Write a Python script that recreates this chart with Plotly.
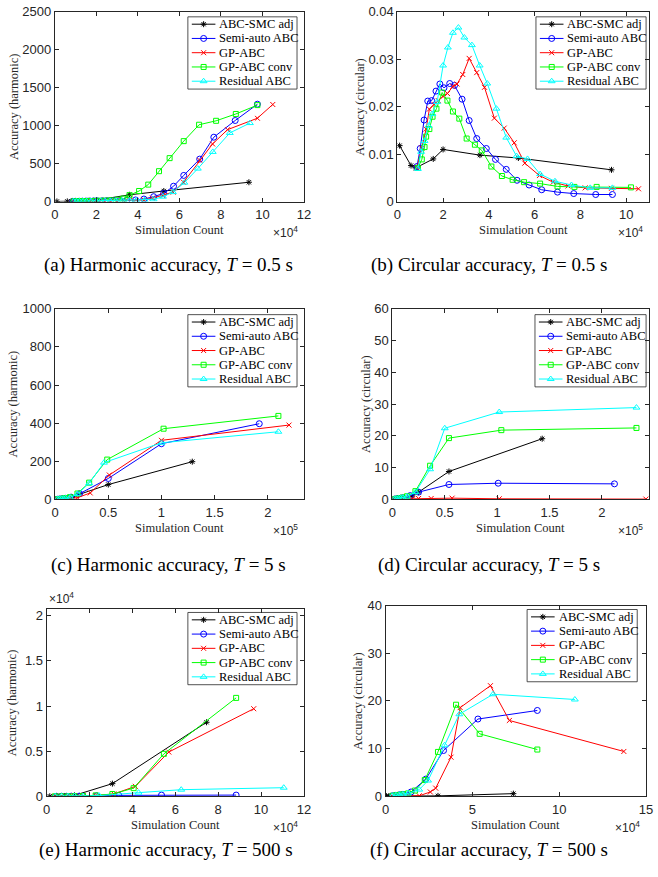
import plotly.graph_objects as go

W, H = 658, 877
SERIF = "Liberation Serif, Times New Roman, serif"
SANS = "Liberation Sans, Arial, sans-serif"
AX = "#262626"

methods = ["ABC-SMC adj", "Semi-auto ABC", "GP-ABC", "GP-ABC conv", "Residual ABC"]
colors = ["#000000", "#0000FF", "#FF0000", "#00FF00", "#00FFFF"]
symbols = ["asterisk-open", "circle-open", "x-thin-open", "square-open", "triangle-up-open"]
msizes = [5, 6, 5, 5, 6]

# ---------------- (a) harmonic, T=0.5s  (x in 1e4) ----------------
a_smc_x = [0.1, 0.6, 0.8, 1.6, 2.0, 3.6, 5.25, 9.35]
a_smc_y = [2, 3, 4, 12, 20, 90, 140, 255]
a_semi_x = [0.86, 1.0, 1.17, 1.33, 1.5, 1.69, 1.86, 2.04, 2.29, 2.5, 2.83, 3.14, 3.47, 3.89, 4.29, 4.76, 5.24, 5.72, 6.21, 6.98, 7.66, 8.69, 9.76]
a_semi_y = [3, 4, 5, 6, 7, 8, 9, 10, 11, 12, 13, 14, 16, 22, 34, 65, 108, 203, 345, 560, 849, 1069, 1284]
a_gp_x = [0.9, 1.1, 1.3, 1.5, 1.7, 1.9, 2.1, 2.4, 2.7, 3.0, 3.4, 3.8, 4.3, 4.7, 5.2, 5.7, 6.2, 6.98, 7.6, 8.32, 9.76, 10.5]
a_gp_y = [2, 3, 3, 4, 4, 5, 5, 6, 7, 8, 10, 14, 22, 45, 80, 125, 255, 545, 760, 948, 1099, 1280]
a_conv_x = [0.9, 1.07, 1.19, 1.26, 1.4, 1.54, 1.71, 1.96, 2.19, 2.43, 2.71, 3.03, 3.3, 3.6, 4.06, 4.5, 5.02, 5.53, 6.21, 6.95, 7.77, 8.72, 9.76]
a_conv_y = [3, 4, 5, 5, 6, 7, 8, 10, 12, 14, 17, 25, 40, 85, 140, 224, 401, 573, 797, 1013, 1065, 1155, 1272]
a_res_x = [0.9, 1.04, 1.19, 1.36, 1.53, 1.74, 2.0, 2.21, 2.43, 2.67, 2.93, 3.26, 3.6, 3.93, 4.33, 4.76, 5.21, 5.69, 6.24, 6.89, 7.61, 8.43, 9.4]
a_res_y = [2, 3, 3, 4, 4, 5, 6, 7, 8, 9, 10, 12, 14, 17, 22, 30, 65, 125, 250, 435, 655, 905, 1035]

# ---------------- (b) circular, T=0.5s  (x in 1e4) ----------------
b_smc_x = [0.1, 0.6, 0.8, 1.57, 2.0, 3.61, 5.29, 9.36]
b_smc_y = [0.0118, 0.0076, 0.0071, 0.0090, 0.0110, 0.0098, 0.0092, 0.0067]
b_semi_x = [0.86, 1.0, 1.17, 1.33, 1.5, 1.69, 1.86, 2.04, 2.29, 2.5, 2.83, 3.14, 3.47, 3.89, 4.29, 4.76, 5.23, 5.76, 6.31, 7.0, 7.71, 8.67, 9.4]
b_semi_y = [0.0074, 0.0112, 0.0172, 0.0212, 0.0213, 0.0233, 0.0248, 0.0240, 0.0249, 0.0245, 0.0216, 0.0171, 0.0133, 0.0112, 0.0089, 0.0068, 0.0045, 0.0035, 0.0025, 0.0020, 0.0017, 0.0015, 0.0015]
b_gp_x = [0.86, 1.07, 1.26, 1.4, 1.6, 1.79, 2.0, 2.19, 2.43, 2.61, 2.86, 3.14, 3.47, 3.81, 4.24, 4.67, 5.11, 5.57, 6.21, 6.81, 7.46, 8.21, 9.36, 10.54]
b_gp_y = [0.0071, 0.0113, 0.0153, 0.0195, 0.0205, 0.0213, 0.0222, 0.0228, 0.0243, 0.0248, 0.0268, 0.0302, 0.0272, 0.0241, 0.0176, 0.0155, 0.0124, 0.0081, 0.0055, 0.0041, 0.0033, 0.0029, 0.0028, 0.0027]
b_conv_x = [0.9, 1.07, 1.19, 1.26, 1.4, 1.54, 1.71, 1.96, 2.19, 2.43, 2.71, 3.03, 3.39, 3.69, 4.11, 4.57, 5.04, 5.54, 6.24, 7.0, 7.74, 8.71, 10.21]
b_conv_y = [0.0071, 0.0089, 0.0115, 0.0137, 0.0153, 0.0179, 0.0196, 0.0230, 0.0213, 0.0190, 0.0175, 0.0133, 0.0120, 0.0108, 0.0074, 0.0054, 0.0046, 0.0041, 0.0038, 0.0032, 0.0031, 0.0031, 0.0030]
b_res_x = [0.9, 1.04, 1.19, 1.36, 1.53, 1.74, 2.0, 2.21, 2.43, 2.67, 2.93, 3.26, 3.6, 3.93, 4.33, 4.76, 5.21, 5.69, 6.24, 6.89, 7.61, 8.43, 9.4]
b_res_y = [0.0069, 0.0105, 0.0128, 0.0160, 0.0185, 0.0210, 0.0287, 0.0325, 0.0356, 0.0367, 0.0346, 0.0330, 0.0287, 0.0249, 0.0196, 0.0135, 0.0096, 0.0090, 0.0058, 0.0043, 0.0035, 0.0029, 0.0029]

# ---------------- (c) harmonic, T=5s  (x in 1e5) ----------------
c_smc_x = [0.01, 0.06, 0.1, 0.16, 0.22, 0.5, 1.29]
c_smc_y = [1, 2, 4, 10, 25, 78, 198]
c_semi_x = [0.02, 0.04, 0.06, 0.08, 0.1, 0.15, 0.23, 0.5, 1.0, 1.92]
c_semi_y = [1, 2, 3, 4, 6, 12, 30, 110, 292, 397]
c_gp_x = [0.02, 0.04, 0.06, 0.08, 0.12, 0.21, 0.33, 0.51, 1.0, 2.2]
c_gp_y = [0, 1, 1, 2, 4, 9, 34, 128, 310, 390]
c_conv_x = [0.02, 0.04, 0.06, 0.08, 0.1, 0.14, 0.21, 0.32, 0.49, 1.02, 2.1]
c_conv_y = [1, 2, 3, 5, 7, 12, 31, 88, 209, 371, 438]
c_res_x = [0.02, 0.04, 0.06, 0.08, 0.1, 0.14, 0.21, 0.32, 0.46, 1.0, 2.1]
c_res_y = [1, 2, 3, 4, 6, 10, 28, 85, 193, 297, 355]

# ---------------- (d) circular, T=5s  (x in 1e5) ----------------
d_smc_x = [0.01, 0.06, 0.1, 0.19, 0.25, 0.54, 1.43]
d_smc_y = [0, 0, 0.3, 1.1, 2.3, 8.8, 19.1]
d_semi_x = [0.02, 0.04, 0.06, 0.08, 0.1, 0.17, 0.25, 0.54, 1.01, 2.12]
d_semi_y = [0.1, 0.2, 0.3, 0.4, 0.5, 1.2, 2.3, 4.7, 5.1, 4.9]
d_gp_x = [0.02, 0.04, 0.06, 0.08, 0.12, 0.19, 0.25, 0.37, 0.57, 1.02, 2.42]
d_gp_y = [0.1, 0.1, 0.2, 0.2, 0.2, 0.3, 0.3, 0.3, 0.4, 0.2, 0.1]
d_conv_x = [0.02, 0.04, 0.06, 0.08, 0.1, 0.14, 0.22, 0.36, 0.54, 1.04, 2.33]
d_conv_y = [0.1, 0.2, 0.3, 0.4, 0.6, 1.0, 2.6, 10.6, 19.3, 21.8, 22.5]
d_res_x = [0.02, 0.04, 0.06, 0.08, 0.1, 0.14, 0.22, 0.36, 0.5, 1.02, 2.33]
d_res_y = [0.1, 0.2, 0.3, 0.4, 0.5, 0.9, 2.3, 9.5, 22.4, 27.5, 28.9]

# ---------------- (e) harmonic, T=500s  (x in 1e4, y in 1e4) ----------------
e_smc_x = [0.15, 0.46, 0.84, 1.3, 3.07, 7.46]
e_smc_y = [0, 0, 0.003, 0.01, 0.14, 0.82]
e_semi_x = [0.46, 0.69, 0.92, 1.15, 1.53, 2.34, 3.37, 5.36, 8.84]
e_semi_y = [0, 0, 0, 0.001, 0.002, 0.005, 0.01, 0.013, 0.013]
e_gp_x = [0.4, 0.7, 1.0, 1.3, 1.7, 2.3, 3.14, 4.14, 5.7, 9.66]
e_gp_y = [0, 0, 0, 0.001, 0.003, 0.008, 0.025, 0.11, 0.49, 0.97]
e_conv_x = [0.4, 0.7, 1.0, 1.3, 1.7, 2.29, 3.07, 4.06, 5.47, 8.84]
e_conv_y = [0, 0, 0, 0.001, 0.003, 0.01, 0.025, 0.09, 0.47, 1.09]
e_res_x = [0.4, 0.7, 1.0, 1.3, 1.7, 2.45, 4.29, 6.28, 11.06]
e_res_y = [0, 0, 0, 0.001, 0.002, 0.007, 0.04, 0.073, 0.095]

# ---------------- (f) circular, T=500s  (x in 1e4) ----------------
f_smc_x = [0.06, 0.19, 1.36, 3.02, 7.36]
f_smc_y = [0.02, 0.03, 0.05, 0.08, 0.55]
f_semi_x = [0.4, 0.6, 0.8, 1.0, 1.47, 2.32, 3.34, 5.32, 8.74]
f_semi_y = [0.1, 0.2, 0.3, 0.4, 0.9, 3.6, 9.6, 16.2, 18.0]
f_gp_x = [0.4, 0.6, 0.8, 1.0, 1.32, 1.94, 2.58, 2.89, 3.77, 4.3, 6.04, 7.13, 13.72]
f_gp_y = [0, 0.05, 0.1, 0.1, 0.1, 0.1, 0.9, 1.7, 8.2, 18.6, 23.2, 15.9, 9.4]
f_conv_x = [0.4, 0.6, 0.8, 1.0, 1.3, 1.7, 2.26, 3.02, 4.06, 5.42, 8.74]
f_conv_y = [0.1, 0.2, 0.3, 0.4, 0.6, 1.2, 3.4, 9.3, 19.2, 13.1, 9.8]
f_res_x = [0.4, 0.6, 0.8, 1.0, 1.3, 1.94, 2.45, 3.4, 4.25, 6.19, 10.9]
f_res_y = [0.1, 0.2, 0.3, 0.4, 0.6, 1.4, 3.3, 10.7, 17.2, 21.4, 20.3]

# tick labels
xt_a = [0, 2, 4, 6, 8, 10, 12]
xt_b = [0, 2, 4, 6, 8, 10]
xt_cd = [0, 0.5, 1, 1.5, 2]
xt_f = [0, 5, 10, 15]
yt_a = [0, 500, 1000, 1500, 2000, 2500]
yt_b = [0, 0.01, 0.02, 0.03, 0.04]
yt_c = [0, 200, 400, 600, 800, 1000]
yt_d = [0, 10, 20, 30, 40, 50, 60]
yt_e = [0, 0.5, 1, 1.5, 2]
yt_f = [0, 10, 20, 30, 40]

captions = [
    "(a) Harmonic accuracy, <i>T</i> = 0.5 s",
    "(b) Circular accuracy, <i>T</i> = 0.5 s",
    "(c) Harmonic accuracy, <i>T</i> = 5 s",
    "(d) Circular accuracy, <i>T</i> = 5 s",
    "(e) Harmonic accuracy, <i>T</i> = 500 s",
    "(f) Circular accuracy, <i>T</i> = 500 s",
]


def fmt(v):
    return "%g" % v


panels = [
    dict(xs=[a_smc_x, a_semi_x, a_gp_x, a_conv_x, a_res_x], ys=[a_smc_y, a_semi_y, a_gp_y, a_conv_y, a_res_y],
         box=(51.7, 5, 305, 198), xr=[0, 12], yr=[0, 2500], xt=xt_a, yt=yt_a, ylab="Accuracy (harmonic)",
         ylx=9.5, xexp="×10<sup>4</sup>", yexp=None, leg=(187, 10, 298), cap_x=167, cap_y=262),
    dict(xs=[b_smc_x, b_semi_x, b_gp_x, b_conv_x, b_res_x], ys=[b_smc_y, b_semi_y, b_gp_y, b_conv_y, b_res_y],
         box=(400, 5, 656, 198), xr=[0, 11], yr=[0, 0.04], xt=xt_b, yt=yt_b, ylab="Accuracy (circular)",
         ylx=362, xexp="×10<sup>4</sup>", yexp=None, leg=(541, 10, 653), cap_x=493, cap_y=262),
    dict(xs=[c_smc_x, c_semi_x, c_gp_x, c_conv_x, c_res_x], ys=[c_smc_y, c_semi_y, c_gp_y, c_conv_y, c_res_y],
         box=(52, 307, 305, 501), xr=[0, 2.34], yr=[0, 1000], xt=xt_cd, yt=yt_c, ylab="Accuracy (harmonic)",
         ylx=9.5, xexp="×10<sup>5</sup>", yexp=None, leg=(187, 313, 298), cap_x=167, cap_y=568),
    dict(xs=[d_smc_x, d_semi_x, d_gp_x, d_conv_x, d_res_x], ys=[d_smc_y, d_semi_y, d_gp_y, d_conv_y, d_res_y],
         box=(395, 307, 656, 501), xr=[0, 2.45], yr=[0, 60], xt=xt_cd, yt=yt_d, ylab="Accuracy (circular)",
         ylx=368, xexp="×10<sup>5</sup>", yexp=None, leg=(540, 313, 653), cap_x=493, cap_y=568),
    dict(xs=[e_smc_x, e_semi_x, e_gp_x, e_conv_x, e_res_x], ys=[e_smc_y, e_semi_y, e_gp_y, e_conv_y, e_res_y],
         box=(43.3, 612, 305, 803), xr=[0, 12], yr=[0, 2.08], xt=xt_a, yt=yt_e, ylab="Accuracy (harmonic)",
         ylx=9, xexp="×10<sup>4</sup>", yexp="×10<sup>4</sup>", leg=(187, 616, 298), cap_x=165, cap_y=858),
    dict(xs=[f_smc_x, f_semi_x, f_gp_x, f_conv_x, f_res_x], ys=[f_smc_y, f_semi_y, f_gp_y, f_conv_y, f_res_y],
         box=(388, 609, 653, 803), xr=[0, 15], yr=[0, 40], xt=xt_f, yt=yt_f, ylab="Accuracy (circular)",
         ylx=360, xexp="×10<sup>4</sup>", yexp=None, leg=(532, 613, 644), cap_x=493, cap_y=858),
]


def PX(p):
    return p / W


def PY(p):
    return 1 - p / H


fig = go.Figure()
layout = {}
annotations = []
shapes = []

for i, P in enumerate(panels):
    n = i + 1
    xn = "x" if n == 1 else "x%d" % n
    yn = "y" if n == 1 else "y%d" % n
    for k in range(5):
        fig.add_trace(go.Scatter(
            x=P["xs"][k], y=P["ys"][k], mode="lines+markers", xaxis=xn, yaxis=yn,
            line=dict(color=colors[k], width=1),
            marker=dict(symbol=symbols[k], size=msizes[k], color=colors[k], line=dict(width=1, color=colors[k])),
            showlegend=False, hoverinfo="skip"))
    l, t, r, b = P["box"]
    common = dict(showline=True, linecolor=AX, linewidth=1, mirror="ticks", ticks="inside", ticklen=4,
                  tickcolor=AX, tickwidth=1, showgrid=False, zeroline=False, fixedrange=True,
                  tickfont=dict(family=SANS, size=13, color=AX))
    layout["xaxis" if n == 1 else "xaxis%d" % n] = dict(
        domain=[PX(l), PX(r)], range=P["xr"], anchor=yn, tickvals=P["xt"],
        ticktext=[fmt(v) for v in P["xt"]], ticklabelstandoff=1, **common)
    layout["yaxis" if n == 1 else "yaxis%d" % n] = dict(
        domain=[PY(b), PY(t)], range=P["yr"], anchor=xn, tickvals=P["yt"],
        ticktext=[fmt(v) for v in P["yt"]], **common)
    # axis titles
    annotations.append(dict(text="Simulation Count", xref="paper", yref="paper", x=PX((l + r) / 2),
                            y=PY(b + 29), xanchor="center", yanchor="middle", showarrow=False,
                            font=dict(family=SERIF, size=12.5, color=AX)))
    annotations.append(dict(text=P["xexp"], xref="paper", yref="paper", x=PX(r - 4), y=PY(b + 31),
                            xanchor="right", yanchor="middle", showarrow=False,
                            font=dict(family=SANS, size=12, color=AX)))
    annotations.append(dict(text=P["ylab"], xref="paper", yref="paper", x=PX(P["ylx"]), y=PY((t + b) / 2),
                            xanchor="center", yanchor="middle", textangle=-90, showarrow=False,
                            font=dict(family=SERIF, size=12.5, color=AX)))
    if P["yexp"]:
        annotations.append(dict(text=P["yexp"], xref="paper", yref="paper", x=PX(l), y=PY(t - 11),
                                xanchor="left", yanchor="middle", showarrow=False,
                                font=dict(family=SANS, size=12, color=AX)))
    annotations.append(dict(text=captions[i], xref="paper", yref="paper",
                            x=PX(P["cap_x"]), y=PY(P["cap_y"]), xanchor="center", yanchor="middle",
                            showarrow=False, font=dict(family=SERIF, size=19, color="#000000")))
    # legend box (manual, MATLAB style)
    L, T, R = P["leg"]
    B = T + 73.5
    shapes.append(dict(type="rect", xref="paper", yref="paper", x0=PX(L), x1=PX(R), y0=PY(B), y1=PY(T),
                       line=dict(color=AX, width=0.8), fillcolor="rgba(0,0,0,0)", layer="above"))
    for k in range(5):
        yy = T + 7.5 + k * 14.5
        fig.add_trace(go.Scatter(x=[L + 4, L + 28], y=[yy, yy], mode="lines", xaxis="x7", yaxis="y7",
                                 line=dict(color=colors[k], width=1), showlegend=False, hoverinfo="skip"))
        fig.add_trace(go.Scatter(x=[L + 16], y=[yy], mode="markers", xaxis="x7", yaxis="y7",
                                 marker=dict(symbol=symbols[k], size=msizes[k], color=colors[k],
                                             line=dict(width=1, color=colors[k])),
                                 showlegend=False, hoverinfo="skip"))
        annotations.append(dict(text=methods[k], xref="paper", yref="paper", x=PX(L + 30), y=PY(yy),
                                xanchor="left", yanchor="middle", showarrow=False,
                                font=dict(family=SERIF, size=12.5, color="#000000")))

layout["xaxis7"] = dict(domain=[0, 1], range=[0, W], anchor="y7", visible=False, fixedrange=True)
layout["yaxis7"] = dict(domain=[0, 1], range=[H, 0], anchor="x7", visible=False, fixedrange=True)

fig.update_layout(
    width=W, height=H, margin=dict(l=0, r=0, t=0, b=0),
    paper_bgcolor="white", plot_bgcolor="rgba(0,0,0,0)",
    annotations=annotations, shapes=shapes, showlegend=False, **layout)

fig.write_html("out.html")
